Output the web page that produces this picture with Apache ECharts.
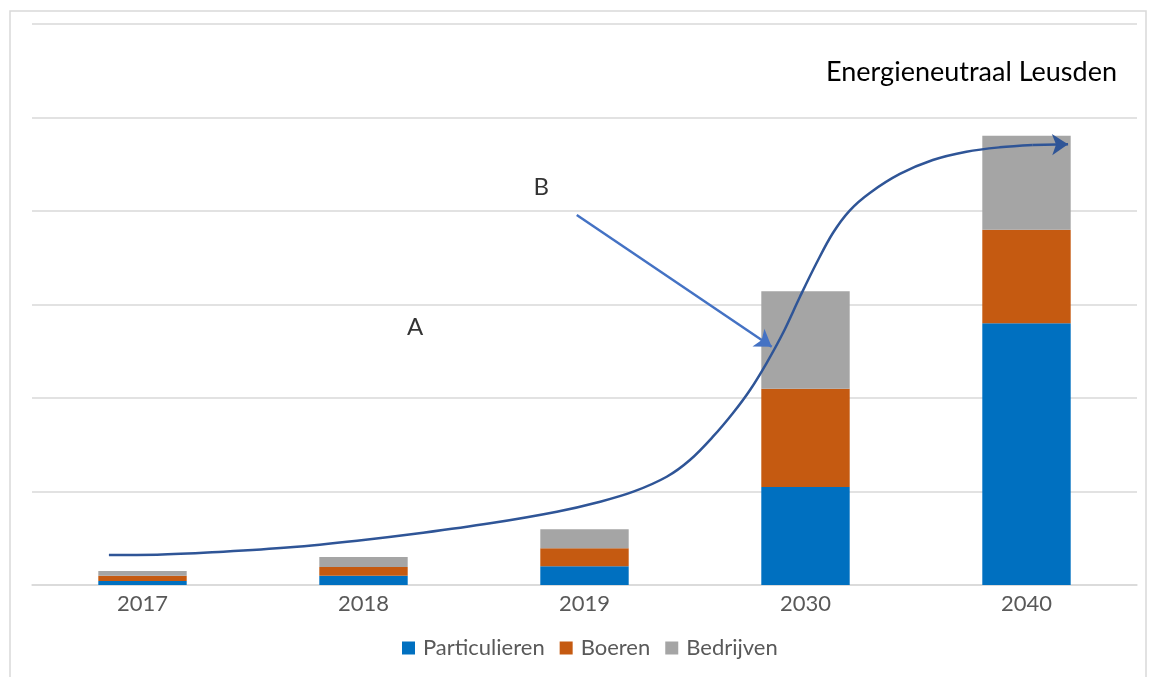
<!DOCTYPE html>
<html>
<head>
<meta charset="utf-8">
<script src="https://cdn.jsdelivr.net/npm/echarts@6/dist/echarts.min.js"></script>
<style>
html,body{margin:0;padding:0;background:#fff;}
#chart{width:1149px;height:677px;}
</style>
</head>
<body>
<div id="chart"></div>
<script>
// ---- data ----
const categories = ['2017', '2018', '2019', '2030', '2040'];
const particulieren = [0.043, 0.1, 0.2, 1.048, 2.8];
const boeren = [0.057, 0.093, 0.193, 1.05, 1.0];
const bedrijven = [0.05, 0.107, 0.203, 1.045, 1.005];
const seriesNames = ['Particulieren', 'Boeren', 'Bedrijven'];
const chartTitle = 'Energieneutraal Leusden';

// S-curve annotation (x in category index units, y in value units)
const curveX = [-0.152, 0.066, 0.366, 0.669, 0.971, 1.27, 1.573, 1.875, 2.071, 2.221, 2.372, 2.477, 2.581, 2.672, 2.749, 2.824, 2.898, 2.975, 3.05, 3.124, 3.2, 3.291, 3.427, 3.576, 3.728, 3.879, 4.028];
const curveY = [0.321, 0.324, 0.356, 0.403, 0.474, 0.559, 0.66, 0.784, 0.891, 0.998, 1.158, 1.337, 1.586, 1.84, 2.086, 2.374, 2.695, 3.083, 3.444, 3.765, 4.005, 4.193, 4.396, 4.545, 4.634, 4.681, 4.706];
const curveArrowEnd = [4.188, 4.713];

// straight arrow B
const arrowBStart = [1.965, 3.957];
const arrowBEnd = [2.847, 2.549];

// text annotations
const annotTexts = ['A', 'B'];
const annotX = [1.234, 1.804];
const annotY = [2.76, 4.257];

// ---- chart ----
const chart = echarts.init(document.getElementById('chart'));
const colors = ['#0070C0', '#C55A11', '#A5A5A5'];
const barValues = [particulieren, boeren, bedrijven];

const series = seriesNames.map((n, i) => ({
  name: n,
  type: 'bar',
  stack: 'total',
  xAxisIndex: 0,
  yAxisIndex: 0,
  barCategoryGap: '60%',
  itemStyle: { color: colors[i] },
  data: barValues[i]
}));

series.push({
  name: 'curve',
  type: 'line',
  xAxisIndex: 1,
  yAxisIndex: 0,
  smooth: 0.35,
  showSymbol: false,
  symbol: 'none',
  lineStyle: { color: '#2F5597', width: 2.5 },
  data: curveX.map((x, i) => [x, curveY[i]]),
  markLine: {
    silent: true,
    symbol: ['none', 'arrow'],
    symbolSize: 16,
    lineStyle: { color: '#2F5597', width: 2.5, type: 'solid' },
    itemStyle: { color: '#2F5597' },
    label: { show: false },
    data: [[
      { coord: [curveX[curveX.length - 1], curveY[curveY.length - 1]] },
      { coord: curveArrowEnd }
    ]]
  },
  z: 5
});

series.push({
  name: 'arrowB',
  type: 'line',
  xAxisIndex: 1,
  yAxisIndex: 0,
  data: [],
  markLine: {
    silent: true,
    symbol: ['none', 'arrow'],
    symbolSize: 16,
    lineStyle: { color: '#4472C4', width: 2.5, type: 'solid' },
    itemStyle: { color: '#4472C4' },
    label: { show: false },
    data: [[{ coord: arrowBStart }, { coord: arrowBEnd }]]
  },
  z: 5
});

series.push({
  name: 'annot',
  type: 'scatter',
  xAxisIndex: 1,
  yAxisIndex: 0,
  symbolSize: 1,
  itemStyle: { color: 'rgba(0,0,0,0)' },
  label: {
    show: true,
    position: 'inside',
    formatter: p => p.name,
    color: '#000',
    fontSize: 24,
    fontFamily: 'Lato'
  },
  data: annotTexts.map((t, i) => ({ name: t, value: [annotX[i], annotY[i]] })),
  z: 6
});

chart.setOption({
  animation: false,
  textStyle: { fontFamily: 'Lato' },
  title: {
    text: chartTitle,
    right: 27,
    top: 54,
    textStyle: { fontFamily: 'Lato', fontSize: 27, fontWeight: 'normal', color: '#000' }
  },
  legend: {
    data: seriesNames,
    bottom: 13,
    left: 397,
    itemWidth: 13,
    itemHeight: 13,
    itemGap: 15,
    icon: 'rect',
    textStyle: { color: '#595959', fontSize: 22, fontFamily: 'Lato', padding: [0, 0, 0, 3] }
  },
  grid: { left: 32, right: 12, top: 24, bottom: 92, containLabel: false },
  xAxis: [
    {
      type: 'category',
      data: categories,
      axisTick: { show: false },
      axisLine: { lineStyle: { color: '#D9D9D9', width: 1.5 } },
      axisLabel: { color: '#595959', fontSize: 22, margin: 8, fontFamily: 'Lato' }
    },
    {
      type: 'value',
      min: -0.5,
      max: 4.5,
      show: false
    }
  ],
  yAxis: {
    type: 'value',
    min: 0,
    max: 6,
    interval: 1,
    axisLabel: { show: false },
    axisLine: { show: false },
    axisTick: { show: false },
    splitLine: { lineStyle: { color: '#D9D9D9', width: 1.5 } }
  },
  graphic: [{
    type: 'rect',
    shape: { x: 10, y: 11, width: 1136, height: 700 },
    style: { fill: 'none', stroke: '#D9D9D9', lineWidth: 1.5 },
    silent: true,
    z: -1
  }],
  series: series
});
</script>
</body>
</html>
